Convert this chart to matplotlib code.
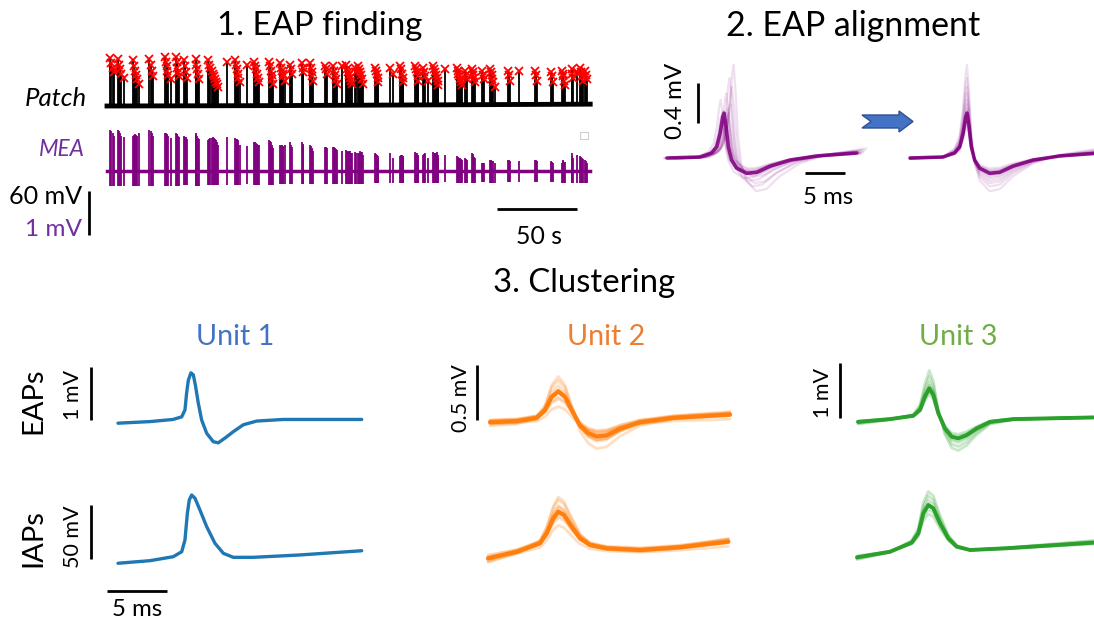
import numpy as np
import matplotlib
matplotlib.use("Agg")
import matplotlib.pyplot as plt
from matplotlib.patches import Polygon, Rectangle

W, H = 1094, 620
plt.rcParams['font.family'] = ['Lato', 'DejaVu Sans']

# ------------------------------------------------------------------ data
# Panel 1: spike bursts (s), patch peaks (mV), MEA up/down deflections (mV)
burst_times_s = [
    [1.9, 2.5, 3.6, 4.2], [7.1, 7.6, 8.1, 9.0, 10.6], [16.4, 17.0, 17.5, 18.1, 18.6, 20.2],
    [26.4, 27.2, 27.9, 28.6], [36.3, 36.8, 37.3, 37.8, 38.3, 39.8], [43.1, 43.5, 43.9, 44.5, 45.2],
    [48.1, 48.7, 49.4, 50.2], [55.4, 55.9, 56.4, 57.0, 57.7],
    [63.3, 63.8, 64.4, 65.4, 66.4, 67.0, 67.5, 68.1, 68.6, 69.6], [74.8],
    [80.0, 80.5, 81.1, 81.6, 82.1, 83.1], [87.3], [91.9, 92.5, 93.0, 93.6, 94.4, 95.2],
    [101.4, 101.8, 102.3, 102.9, 103.4, 103.9], [108.1, 108.6, 109.2, 109.7, 110.2, 111.3],
    [114.4, 114.9, 115.4], [121.7, 122.2, 122.7], [126.9, 127.4, 127.9, 128.4, 128.9],
    [136.3, 136.8, 137.3], [141.1, 141.8, 142.5, 143.2, 143.9],
    [146.7, 149.4, 150.1, 150.8, 151.3, 151.9, 152.4, 152.9, 155.0, 155.6, 157.1, 157.6,
     158.1, 158.7, 159.2, 160.2],
    [167.5, 168.0, 168.6, 169.1, 169.6], [176.9, 179.0], [183.1, 183.6, 184.2, 184.7, 185.2],
    [192.5, 193.0, 193.6, 194.1, 194.6, 197.7, 198.2, 198.8, 200.8],
    [203.6, 204.4, 205.3, 205.7, 206.1, 206.6, 207.1], [211.3],
    [218.6, 219.1, 219.6, 220.1, 220.6, 221.2, 221.7, 223.8, 224.3, 224.8],
    [228.0, 228.5, 229.0, 229.5, 230.0], [234.2, 234.9, 235.6],
    [239.4, 239.9, 240.4, 240.9, 241.4, 242.5], [250.8, 251.3, 251.9], [257.7],
    [267.5, 268.0, 268.6], [277.3, 277.9, 278.6], [284.2, 284.7, 285.2, 285.6, 286.2],
    [290.4, 290.9, 291.4, 293.9, 295.6, 296.2, 296.7, 297.3, 298.8, 299.3, 299.8],
]
patch_peak_mV = [
    [5, -2, -8, -14], [4, -4, -10, -16, -22], [2, -6, -12, -18, -24, -30],
    [4, -4, -12, -20], [6, 0, -6, -12, -18, -24], [7, 0, -8, -14, -20],
    [2, -6, -14, -22], [4, -4, -10, -16, -24],
    [2, -4, -8, -12, -16, -20, -24, -28, -30, -34], [0],
    [2, -4, -10, -16, -22, -28], [-4], [0, -6, -10, -16, -22, -28],
    [0, -6, -12, -18, -24, -30], [-2, -8, -12, -16, -20, -26],
    [-4, -10, -16], [-2, -8, -14], [-2, -8, -14, -20, -26],
    [-6, -10, -16], [-6, -12, -18, -24, -30],
    [-6, -4, -10, -14, -18, -22, -26, -30, -8, -14, -6, -10, -14, -18, -24, -30],
    [-8, -12, -16, -22, -28], [-8, -16], [-6, -10, -16, -22, -28],
    [-6, -10, -14, -20, -26, -8, -14, -20, -26],
    [-6, -10, -14, -18, -22, -26, -32], [-10],
    [-8, -12, -16, -20, -24, -28, -32, -12, -18, -24],
    [-10, -14, -18, -22, -28], [-12, -18, -24],
    [-10, -14, -18, -24, -28, -34], [-12, -18, -26], [-12],
    [-12, -18, -26], [-14, -20, -28], [-12, -16, -20, -26, -32],
    [-10, -16, -22, -14, -8, -14, -20, -26, -12, -18, -24],
]
mea_up_mV = [
    [0.93, 0.90, 0.87, 0.80], [0.93, 0.90, 0.87, 0.80, 0.77], [0.80, 0.82, 0.84, 0.82, 0.80, 0.87],
    [0.93, 0.90, 0.87, 0.80], [0.87, 0.86, 0.85, 0.82, 0.80, 0.74], [0.87, 0.85, 0.84, 0.80, 0.77],
    [0.80, 0.78, 0.77, 0.72], [0.87, 0.84, 0.80, 0.76, 0.72],
    [0.70, 0.72, 0.74, 0.76, 0.77, 0.75, 0.72, 0.70, 0.66, 0.59], [0.77],
    [0.74, 0.73, 0.72, 0.70, 0.66, 0.59], [0.57], [0.67, 0.65, 0.64, 0.62, 0.60, 0.59],
    [0.70, 0.69, 0.67, 0.59, 0.55, 0.52], [0.60, 0.60, 0.59, 0.57, 0.55, 0.60],
    [0.65, 0.60, 0.55], [0.66, 0.62, 0.59], [0.60, 0.56, 0.52, 0.48, 0.45],
    [0.55, 0.54, 0.52], [0.55, 0.54, 0.53, 0.50, 0.48],
    [0.45, 0.48, 0.46, 0.44, 0.45, 0.45, 0.42, 0.40, 0.44, 0.42, 0.40, 0.42, 0.45, 0.44, 0.44, 0.37],
    [0.40, 0.38, 0.37, 0.33, 0.30], [0.40, 0.30], [0.35, 0.36, 0.37, 0.33, 0.30],
    [0.44, 0.42, 0.40, 0.36, 0.33, 0.37, 0.39, 0.40, 0.30],
    [0.44, 0.42, 0.40, 0.42, 0.44, 0.36, 0.30], [0.37],
    [0.33, 0.32, 0.31, 0.30, 0.30, 0.28, 0.26, 0.30, 0.28, 0.26],
    [0.40, 0.38, 0.35, 0.32, 0.30], [0.19, 0.19, 0.19],
    [0.26, 0.25, 0.23, 0.23, 0.23, 0.19], [0.26, 0.25, 0.23], [0.23],
    [0.26, 0.25, 0.23], [0.23, 0.21, 0.19], [0.19, 0.22, 0.26, 0.19, 0.20],
    [0.40, 0.35, 0.30, 0.37, 0.33, 0.31, 0.30, 0.28, 0.26, 0.22, 0.19],
]
mea_down_mV = [0.34, 0.34, 0.33, 0.34, 0.33, 0.33, 0.32, 0.33, 0.32, 0.31,
               0.31, 0.30, 0.31, 0.31, 0.30, 0.30, 0.30, 0.29, 0.29, 0.30,
               0.30, 0.28, 0.27, 0.28, 0.28, 0.28, 0.26, 0.28, 0.27, 0.25,
               0.27, 0.26, 0.24, 0.25, 0.25, 0.27, 0.28]
patch_rest_t_s = [0, 100, 200, 302]
patch_rest_mV = [-60.0, -59.5, -58.5, -57.5]

# Panel 2: EAP template (ms, mV), individual amplitude factors and jitter (ms)
eap_t_ms = [0, 4.13, 5.58, 6.21, 6.63, 6.96, 7.13, 7.38, 7.67, 8.08, 8.71, 9.96, 11.21, 12.88, 15.38, 18.71, 23.71]
eap_mV = [-0.01, 0.0, 0.04, 0.10, 0.23, 0.39, 0.43, 0.30, 0.10, -0.03, -0.11, -0.16, -0.15, -0.09, -0.03, 0.01, 0.04]
eap_scales = [0.7, 0.8, 0.85, 0.9, 0.95, 1.0, 1.0, 1.05, 1.1, 1.2, 1.3, 1.45, 1.6, 1.8, 2.1]
eap_jitter_ms = [0.3, -0.2, 0.5, 0.0, -0.3, 0.2, 0.6, -0.1, 0.4, 0.8, -0.4, 0.3, 1.0, 0.7, 1.2]

# Panel 3: unit waveforms (ms, mV)
u1_eap_t = [0, 2.67, 4.58, 5.31, 5.58, 5.72, 5.86, 6.08, 6.28, 6.47, 6.69, 6.97, 7.39, 7.94, 8.36, 8.92, 9.61, 10.44, 11.56, 13.75, 20.31]
u1_eap_v = [-0.06, -0.03, 0.01, 0.06, 0.19, 0.51, 0.75, 0.89, 0.85, 0.63, 0.32, 0.0, -0.25, -0.41, -0.43, -0.34, -0.22, -0.09, -0.02, 0.01, 0.01]
u1_iap_t = [0, 2.67, 4.61, 5.31, 5.58, 5.78, 5.94, 6.14, 6.42, 6.83, 7.39, 8.08, 8.78, 9.61, 11.28, 15.17, 20.31]
u1_iap_v = [-5.8, -3.4, 0.3, 4.9, 15.7, 40.4, 52.8, 57.4, 54.3, 43.5, 28.1, 12.7, 3.4, -0.3, -0.3, 1.9, 5.8]

u2_eap_t = [0, 2.22, 3.89, 4.58, 5.14, 5.69, 6.25, 6.81, 7.5, 8.19, 8.89, 9.72, 10.83, 12.5, 15.28, 20]
u2_eap_v = [-0.02, -0.01, 0.02, 0.09, 0.21, 0.26, 0.21, 0.09, -0.05, -0.12, -0.15, -0.14, -0.08, -0.02, 0.02, 0.05]
u2_eap_scales = [0.55, 0.7, 0.8, 0.9, 1.0, 1.0, 1.1, 1.2, 1.35, 1.6]
u2_eap_offsets = [-0.02, 0.01, 0.0, 0.02, -0.01, 0.015, -0.015, 0.0, 0.01, -0.02]
u2_iap_t = [0, 2.39, 4.33, 4.89, 5.44, 5.86, 6.33, 6.97, 7.67, 8.5, 9.89, 12.67, 16, 20.03]
u2_iap_v = [-7.7, -1.6, 6.2, 15.4, 29.3, 35.4, 32.4, 21.6, 10.8, 4.6, 1.5, 0, 2.5, 7.7]
u2_iap_scales = [0.7, 0.8, 0.9, 1.0, 1.0, 1.1, 1.2, 1.3, 1.4]
u2_iap_offsets = [-2.0, 1.5, 0.0, 2.0, -1.0, 1.0, -1.5, 0.5, -0.5]

u3_eap_t = [0, 2.67, 4.61, 5.17, 5.58, 5.94, 6.28, 6.69, 7.25, 7.81, 8.36, 9.06, 9.89, 11.0, 12.94, 19.61]
u3_eap_v = [-0.07, -0.02, 0.04, 0.15, 0.39, 0.54, 0.42, 0.09, -0.19, -0.34, -0.37, -0.31, -0.19, -0.07, -0.02, 0.01]
u3_eap_scales = [0.8, 0.9, 1.0, 1.0, 1.1, 1.2, 1.4, 1.6]
u3_iap_t = [0, 2.75, 4.56, 5.11, 5.53, 5.94, 6.36, 6.92, 7.61, 8.31, 9.42, 12.47, 19.69]
u3_iap_v = [-6.8, -1.6, 6.8, 15.4, 33.9, 41.7, 38.6, 24.7, 10.8, 3.1, 0, 1.6, 6.8]
u3_iap_scales = [0.8, 0.9, 1.0, 1.0, 1.1, 1.2, 1.3]

PURPLE = '#800080'
LPURPLE = '#7030A0'
C_BLUE, C_ORANGE, C_GREEN = '#1f77b4', '#ff7f0e', '#2ca02c'
T_BLUE, T_ORANGE, T_GREEN = '#4472C4', '#ED7D31', '#70AD47'

# ------------------------------------------------------------------ figure
fig = plt.figure(figsize=(W / 100, H / 100), dpi=100)
renderer = fig.canvas.get_renderer()


def px_axes(left, right, top, bottom, x0, ppx, y0, ppy):
    ax = fig.add_axes([left / W, 1 - bottom / H, (right - left) / W, (bottom - top) / H])
    ax.set_xlim((left - x0) / ppx, (right - x0) / ppx)
    ax.set_ylim((y0 - bottom) / ppy, (y0 - top) / ppy)
    ax.axis('off')
    return ax


def ftext(x, y, s, size_px, rot=0, ha='center', va='center', fs=None, **kw):
    t = fig.text(x / W, 1 - y / H, s, ha=ha, va=va, rotation=rot, fontsize=10, **kw)
    if fs is None:
        bb = t.get_window_extent(renderer)
        cur = bb.width if rot == 0 else bb.height
        fs = 10 * size_px / cur
    t.set_fontsize(fs)
    return t


def bar(ax, xs, ys):
    ax.plot(xs, ys, color='black', lw=2, solid_capstyle='butt', clip_on=False)


LINE = dict(solid_joinstyle='round', solid_capstyle='round', clip_on=False)

# ---------------- Panel 1
axp = px_axes(107, 592, 40, 116, 107, 1.6, 106 - 60 * 0.738, 0.738)
axm = px_axes(107, 592, 118, 250, 107, 1.6, 171, 44)

axp.plot(patch_rest_t_s, patch_rest_mV, color='black', lw=3.5, clip_on=False)
axm.plot([patch_rest_t_s[0], patch_rest_t_s[-1]], [0, 0], color=PURPLE, lw=2.5, clip_on=False)
for times, peaks, ups, down in zip(burst_times_s, patch_peak_mV, mea_up_mV, mea_down_mV):
    base = np.interp(times, patch_rest_t_s, patch_rest_mV)
    axp.vlines(times, base, peaks, color='black', lw=1.3)
    axp.plot(times, peaks, 'x', color='red', ms=5.5, mew=1.3, clip_on=False)
    axm.vlines(times, -down, ups, color=PURPLE, lw=1.3)

bar(axm, [-11.25, -11.25], [-0.455, -1.455])
bar(axm, [243.75, 293.75], [-0.864, -0.864])
axm.add_patch(Rectangle((295.6, 0.72), 5, 0.16, facecolor='white', edgecolor='#d0d0d0', lw=0.8, clip_on=False))

ftext(320, 26, '1. EAP finding', 204)
ftext(87, 99, 'Patch', 62, ha='right', style='italic')
ftext(85, 150, 'MEA', 46, ha='right', style='italic', color=LPURPLE)
ftext(82, 197, '60 mV', 73, ha='right')
ftext(82, 230, '1 mV', 57, ha='right', color=LPURPLE)
ftext(539, 236, '50 s', 46)

# ---------------- Panel 2
axL = px_axes(660, 862, 50, 212, 667, 8, 157, 102)
axR = px_axes(905, 1094, 50, 212, 910, 8, 157, 102)
t_eap = np.array(eap_t_ms)
v_eap = np.array(eap_mV)
for s, j in zip(eap_scales, eap_jitter_ms):
    axL.plot(t_eap + j, v_eap * s, color=PURPLE, alpha=0.12, lw=1.6, **LINE)
    axR.plot(t_eap, v_eap * s, color=PURPLE, alpha=0.12, lw=1.6, **LINE)
axL.plot(t_eap, v_eap, color=PURPLE, lw=2.6, alpha=0.85, **LINE)
axR.plot(t_eap, v_eap, color=PURPLE, lw=2.6, alpha=0.85, **LINE)
bar(axL, [3.9, 3.9], [0.33, 0.73])
bar(axL, [17.25, 22.25], [-0.157, -0.157])
ftext(853, 26, '2. EAP alignment', 253)
ftext(675, 101, '0.4 mV', 76, rot=90)
ftext(828, 197, '5 ms', 50)

arrow_px = [(862, 115), (899, 115), (899, 111), (913, 121.5), (899, 132), (899, 128), (862, 128), (871, 121.5)]
fig.patches.append(Polygon([(x / W, 1 - y / H) for x, y in arrow_px], closed=True,
                           facecolor='#4472C4', edgecolor='#2F528F', lw=1,
                           transform=fig.transFigure, figure=fig))

# ---------------- Panel 3
ftext(584, 283, '3. Clustering', 182)
ftext(235, 337, 'Unit 1', 78, color=T_BLUE)
ftext(606, 337, 'Unit 2', 78, color=T_ORANGE)
ftext(958, 337, 'Unit 3', 78, color=T_GREEN)
t_e = ftext(33, 401, 'EAPs', 66, rot=90)
ftext(33, 538, 'IAPs', 0, rot=90, fs=t_e.get_fontsize())

# Unit 1
a1e = px_axes(100, 370, 355, 460, 118, 12, 420, 53)
a1i = px_axes(100, 370, 480, 620, 118, 12, 557, 1.08)
a1e.plot(u1_eap_t, u1_eap_v, color=C_BLUE, lw=2.4, **LINE)
a1i.plot(u1_iap_t, u1_iap_v, color=C_BLUE, lw=2.4, **LINE)
bar(a1e, [-2.25, -2.25], [0, 1])
bar(a1i, [-2.25, -2.25], [-2, 48])
bar(a1i, [-0.92, 4.08], [-31.5, -31.5])
t_1mv = ftext(73, 395, '1 mV', 50, rot=90)
ftext(73, 537, '50 mV', 0, rot=90, fs=t_1mv.get_fontsize())
ftext(137, 609, '5 ms', 50)

# Unit 2
a2e = px_axes(470, 740, 355, 460, 490, 12, 420, 110)
a2i = px_axes(470, 740, 480, 620, 488, 12, 550, 1.08)
t2e, v2e = np.array(u2_eap_t), np.array(u2_eap_v)
t2i, v2i = np.array(u2_iap_t), np.array(u2_iap_v)
for s, o in zip(u2_eap_scales, u2_eap_offsets):
    a2e.plot(t2e, v2e * s + o, color=C_ORANGE, alpha=0.25, lw=2, **LINE)
for s, o in zip(u2_iap_scales, u2_iap_offsets):
    a2i.plot(t2i, v2i * s + o, color=C_ORANGE, alpha=0.25, lw=2, **LINE)
a2e.plot(t2e, v2e, color=C_ORANGE, lw=3, **LINE)
a2i.plot(t2i, v2i, color=C_ORANGE, lw=3, **LINE)
bar(a2e, [-1.08, -1.08], [0, 0.5])
ftext(461, 398, '0.5 mV', 0, rot=90, fs=t_1mv.get_fontsize())

# Unit 3
a3e = px_axes(835, 1094, 355, 460, 858, 12, 418, 55)
a3i = px_axes(835, 1094, 480, 620, 857, 12, 550, 1.08)
t3e, v3e = np.array(u3_eap_t), np.array(u3_eap_v)
t3i, v3i = np.array(u3_iap_t), np.array(u3_iap_v)
for s in u3_eap_scales:
    a3e.plot(t3e, v3e * s, color=C_GREEN, alpha=0.25, lw=2, **LINE)
for s in u3_iap_scales:
    a3i.plot(t3i, v3i * s, color=C_GREEN, alpha=0.25, lw=2, **LINE)
a3e.plot(t3e, v3e, color=C_GREEN, lw=2.8, **LINE)
a3i.plot(t3i, v3i, color=C_GREEN, lw=2.8, **LINE)
bar(a3e, [-1.5, -1.5], [0, 1])
ftext(823, 393, '1 mV', 0, rot=90, fs=t_1mv.get_fontsize())

fig.savefig('out.png', dpi=100)
